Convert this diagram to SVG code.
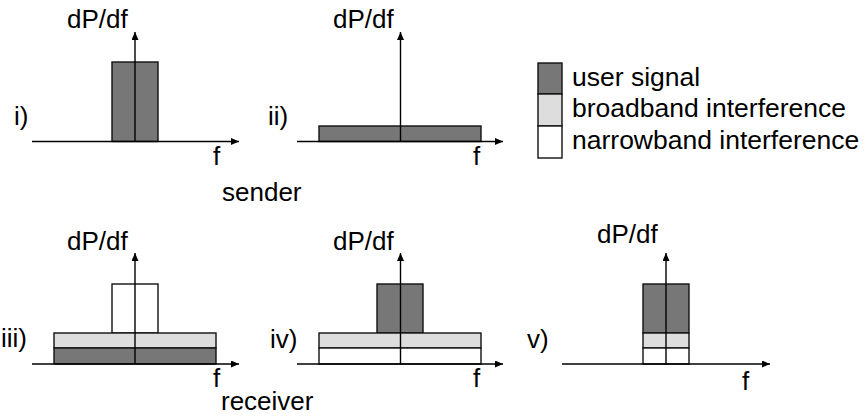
<svg xmlns="http://www.w3.org/2000/svg" width="866" height="419" viewBox="0 0 866 419">
<defs>
<marker id="arr" markerUnits="userSpaceOnUse" markerWidth="9" markerHeight="7" refX="8" refY="3.5" orient="auto"><path d="M0,0 L8,3.5 L0,7 z" fill="#000"/></marker>
<style>
text{font-family:"Liberation Sans",Arial,sans-serif;font-size:26px;fill:#000}
.lg{font-size:26.5px}
.u{fill:#777;stroke:#111;stroke-width:1.4}
.b{fill:#ddd;stroke:#111;stroke-width:1.4}
.n{fill:#fff;stroke:#111;stroke-width:1.4}
.ax{stroke:#000;stroke-width:1.4;fill:none;marker-end:url(#arr)}
</style>
</defs>
<rect width="866" height="419" fill="#fff"/>
<g id="panel-i">
<rect class="u" x="112" y="62" width="46" height="79.5"/>
<text x="67" y="28">dP/df</text>
<text x="14" y="125">i)</text>
<text x="213" y="165">f</text>
</g>
<g id="panel-ii">
<rect class="u" x="319" y="126" width="162" height="15.5"/>
<text x="333" y="28">dP/df</text>
<text x="268" y="125">ii)</text>
<text x="473" y="165">f</text>
</g>
<g id="legend">
<rect class="u" x="538" y="63" width="24" height="31"/>
<rect class="b" x="538" y="94" width="24" height="32"/>
<rect class="n" x="538" y="126" width="24" height="32"/>
<text class="lg" x="572" y="86">user signal</text>
<text class="lg" x="572" y="117">broadband interference</text>
<text class="lg" x="572" y="149">narrowband interference</text>
</g>
<g id="label-sender"><text x="222" y="201">sender</text></g>
<g id="panel-iii">
<rect class="n" x="112" y="284" width="46" height="49"/>
<rect class="b" x="54" y="333" width="162" height="15"/>
<rect class="u" x="54" y="348" width="162" height="16"/>
<text x="67" y="250">dP/df</text>
<text x="1" y="347">iii)</text>
<text x="213" y="387">f</text>
</g>
<g id="panel-iv">
<rect class="u" x="377" y="284" width="46" height="49"/>
<rect class="b" x="319" y="333" width="162" height="15"/>
<rect class="n" x="319" y="348" width="162" height="16"/>
<text x="333" y="250">dP/df</text>
<text x="270" y="348">iv)</text>
<text x="473" y="387">f</text>
</g>
<g id="panel-v">
<rect class="u" x="643" y="284" width="46" height="49"/>
<rect class="b" x="643" y="333" width="46" height="15"/>
<rect class="n" x="643" y="348" width="46" height="16"/>
<text x="597" y="243">dP/df</text>
<text x="527" y="348">v)</text>
<text x="742" y="390">f</text>
</g>
<g id="label-receiver"><text x="221" y="410">receiver</text></g>
<g id="connectors">
<line class="ax" x1="32" y1="141.5" x2="239" y2="141.5"/>
<line class="ax" x1="135" y1="141.5" x2="135" y2="32"/>
<line class="ax" x1="297" y1="141.5" x2="503" y2="141.5"/>
<line class="ax" x1="400.5" y1="141.5" x2="400.5" y2="32"/>
<line class="ax" x1="32" y1="364" x2="239" y2="364"/>
<line class="ax" x1="135" y1="364" x2="135" y2="253"/>
<line class="ax" x1="297" y1="364" x2="503" y2="364"/>
<line class="ax" x1="400.5" y1="364" x2="400.5" y2="253"/>
<line class="ax" x1="562" y1="364" x2="770" y2="364"/>
<line class="ax" x1="666" y1="364" x2="666" y2="253"/>
</g>
</svg>
